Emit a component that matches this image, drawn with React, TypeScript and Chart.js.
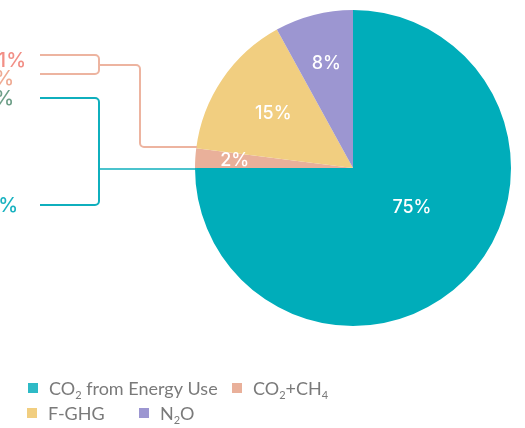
import React, { useEffect, useRef } from "react";
import { Chart, registerables } from "chart.js";

Chart.register(...registerables);

const categories = ["CO_2 from Energy Use", "CO_2+CH_4", "F-GHG", "N_2O"];
const shares = [75, 2, 15, 8];
const sliceColors = ["#00ADBA", "#E9B09A", "#F1CE80", "#9C96D1"];
const sideLabels = ["1.1%", "0.9%", "52%", "23%"];
const sideColors = ["#F28F86", "#EFAA93", "#6E9F88", "#19B2C0"];

// label placement (radius fraction, angle shift in degrees) per slice
const labelPlacement = [
  { r: 0.45, shift: -11 },
  { r: 0.75, shift: 0 },
  { r: 0.61, shift: 0 },
  { r: 0.68, shift: 0 },
];

function drawRich(ctx: CanvasRenderingContext2D, text: string, x: number, y: number, size: number) {
  let cx = x;
  let i = 0;
  while (i < text.length) {
    if (text[i] === "_" && i + 1 < text.length) {
      ctx.font = `${Math.round(size * 0.62)}px Lato, "Open Sans", sans-serif`;
      ctx.fillText(text[i + 1], cx, y + size * 0.22);
      cx += ctx.measureText(text[i + 1]).width;
      i += 2;
    } else {
      let j = i;
      while (j < text.length && text[j] !== "_") j++;
      const seg = text.slice(i, j);
      ctx.font = `${size}px Lato, "Open Sans", sans-serif`;
      ctx.fillText(seg, cx, y);
      cx += ctx.measureText(seg).width;
      i = j;
    }
  }
  return cx;
}

function roundedPath(ctx: CanvasRenderingContext2D, pts: number[][], rad: number) {
  ctx.beginPath();
  ctx.moveTo(pts[0][0], pts[0][1]);
  for (let k = 1; k < pts.length - 1; k++) {
    ctx.arcTo(pts[k][0], pts[k][1], pts[k + 1][0], pts[k + 1][1], rad);
  }
  ctx.lineTo(pts[pts.length - 1][0], pts[pts.length - 1][1]);
  ctx.stroke();
}

const overlayPlugin = {
  id: "overlay",
  afterDatasetsDraw(chart: any) {
    const ctx: CanvasRenderingContext2D = chart.ctx;
    const meta = chart.getDatasetMeta(0);
    ctx.save();
    ctx.fillStyle = "#ffffff";
    ctx.font = '500 18px Inter, "Noto Sans", sans-serif';
    ctx.textAlign = "center";
    ctx.textBaseline = "middle";
    meta.data.forEach((arc: any, idx: number) => {
      const p = arc.getProps(["x", "y", "startAngle", "endAngle", "outerRadius"], true);
      const mid = (p.startAngle + p.endAngle) / 2 + (labelPlacement[idx].shift * Math.PI) / 180;
      const rr = p.outerRadius * labelPlacement[idx].r;
      ctx.fillText(shares[idx] + "%", p.x + Math.cos(mid) * rr, p.y + Math.sin(mid) * rr);
    });

    const first = meta.data[0].getProps(["x", "y", "outerRadius"], true);
    const cx = first.x;
    const cy = first.y;
    const R = first.outerRadius;
    const edgeX = cx - R + 2;
    ctx.lineWidth = 2;
    ctx.strokeStyle = "#EDB4A0";
    roundedPath(ctx, [[40, 55], [99, 55], [99, 74], [40, 74]], 4);
    roundedPath(ctx, [[99, 65], [140, 65], [140, 147], [edgeX, 147]], 4);
    ctx.strokeStyle = "#0FAFBD";
    roundedPath(ctx, [[40, 98], [99, 98], [99, 205], [40, 205]], 4);
    ctx.lineWidth = 1.6;
    ctx.beginPath();
    ctx.moveTo(99, cy + 1);
    ctx.lineTo(edgeX, cy + 1);
    ctx.stroke();

    ctx.font = '500 20px Inter, "Noto Sans", sans-serif';
    ctx.textAlign = "right";
    const ys = [61, 79, 99, 206];
    const xs = [26, 14, 14, 18];
    sideLabels.forEach((t, k) => {
      ctx.fillStyle = sideColors[k];
      ctx.fillText(t, xs[k], ys[k]);
    });

    ctx.textAlign = "left";
    ctx.textBaseline = "alphabetic";
    const legendPos = [
      [28, 383],
      [232, 383],
      [27, 408],
      [139, 408],
    ];
    categories.forEach((c, k) => {
      const [lx, ly] = legendPos[k];
      ctx.fillStyle = k === 0 ? "#2EBAC6" : sliceColors[k];
      ctx.fillRect(lx, ly, 10, 10);
      ctx.fillStyle = "#7A7A7A";
      drawRich(ctx, c, lx + 21, ly + 12, 18);
    });
    ctx.restore();
  },
};

export default function App() {
  const ref = useRef<HTMLCanvasElement>(null);
  useEffect(() => {
    if (!ref.current) return;
    const chart = new Chart(ref.current, {
      type: "pie",
      data: {
        labels: categories,
        datasets: [
          {
            data: shares,
            backgroundColor: sliceColors,
            borderWidth: 0,
          },
        ],
      },
      options: {
        responsive: false,
        animation: false,
        layout: { padding: { left: 195, right: 14, top: 10, bottom: 102 } },
        plugins: {
          legend: { display: false },
          tooltip: { enabled: false },
        },
      },
      plugins: [overlayPlugin],
    });
    return () => chart.destroy();
  }, []);
  return (
    <div style={{ position: "absolute", left: 0, top: 0, width: 525, height: 428, background: "#fff" }}>
      <canvas ref={ref} width={525} height={428} />
    </div>
  );
}
